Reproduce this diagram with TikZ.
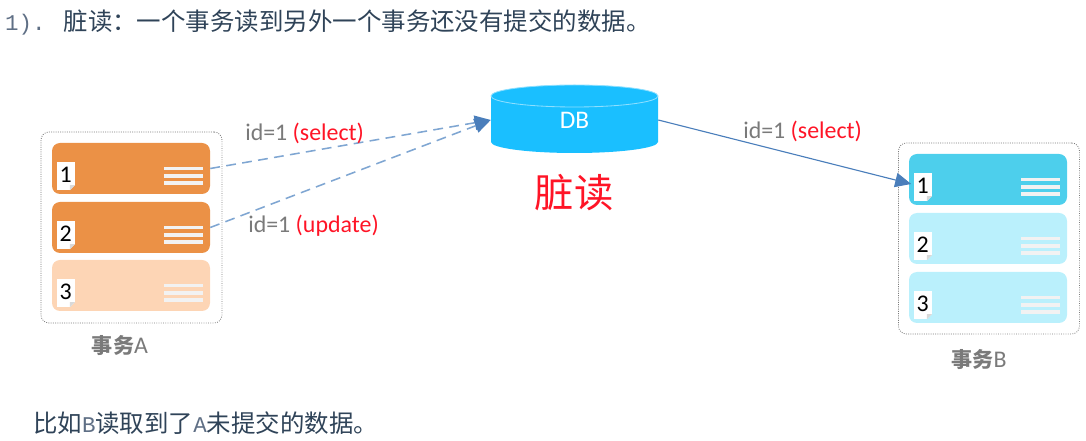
\documentclass[tikz,border=0pt]{standalone}
\usepackage{fontspec}
\setmainfont{Carlito}
\newfontfamily\cjk{Noto Sans CJK SC}
\newfontfamily\mono{Liberation Mono}
\usetikzlibrary{arrows.meta,calc}
\definecolor{orad}{HTML}{EB9146}
\definecolor{oral}{HTML}{FDD5B5}
\definecolor{cyad}{HTML}{4DCFEC}
\definecolor{cyal}{HTML}{BAF0FC}
\definecolor{dbblau}{HTML}{1ABFFF}
\definecolor{pfeil}{HTML}{4A7EBB}
\definecolor{hpfeil}{HTML}{7FA6D2}
\definecolor{grau}{HTML}{7A7A7A}
\definecolor{rot}{HTML}{FF1426}
\definecolor{tinte}{HTML}{2F4358}
\definecolor{monot}{HTML}{5F6F85}
\tikzset{
  kasten/.style={draw=grau,densely dotted,line width=0.6pt,rounded corners=0.2cm,minimum width=4.525cm,minimum height=4.775cm,inner sep=0pt},
  zeile/.style={rounded corners=0.2cm,minimum width=3.95cm,minimum height=1.275cm,inner sep=0pt},
  blatt/.style={fill=white,minimum width=0.45cm,minimum height=0.7cm,inner sep=0pt,font=\fontsize{17}{17}\selectfont},
  strich/.style={draw=white!95!black,line width=2.6pt},
  pfl/.style={-{Triangle[length=4mm,width=3.6mm]},pfeil,line width=0.8pt},
  hpfl/.style={-{Triangle[length=4mm,width=3.6mm,color=pfeil]},hpfeil,dash pattern=on 7pt off 4.5pt,line width=1.1pt},
  lbl/.style={anchor=west,inner sep=0pt,grau,font=\fontsize{17}{17}\selectfont},
  zeil/.style={anchor=west,inner sep=0pt,tinte,font=\fontsize{17.4}{20}\selectfont},
  tname/.style={inner sep=0pt,grau,font=\fontsize{15}{16}\selectfont},
}
\newcommand{\mz}[1]{{\mono\color{monot}\fontsize{16}{16}\selectfont #1}}
% name, x, y, colour, number
\newcommand{\reihe}[5]{
  \node[zeile,fill=#4] (#1) at (#2,#3) {};
  \node[blatt] (#1n) at ($(#1.west)+(0.35,-0.19)$) {\raisebox{0.5mm}{#5}};
  \fill[#4] (#1n.south east) ++(-0.13,0) -- ++(0.13,0) -- ++(0,0.13) -- cycle;
  \fill[black!15] (#1n.south east) ++(-0.13,0) -- ++(0.13,0.13) -- ++(-0.13,0) -- cycle;
  \draw[strich] ($(#1.east)+(-1.15,0)$) -- ($(#1.east)+(-0.17,0)$);
  \draw[strich] ($(#1.east)+(-1.15,-0.19)$) -- ($(#1.east)+(-0.17,-0.19)$);
  \draw[strich] ($(#1.east)+(-1.15,-0.37)$) -- ($(#1.east)+(-0.17,-0.37)$);
}
\begin{document}
\begin{tikzpicture}
  \useasboundingbox (0,0) rectangle (27.15,11.025);
  \node[zeil] (titel) at (0.12,10.47) {\mz{1).}\hspace{0.45cm}{\cjk 脏读：一个事务读到另外一个事务还没有提交的数据。}};
  \node[zeil] (fuss) at (0.82,0.45) {\cjk 比如\mz{B}读取到了\mz{A}未提交的数据。};
  % transaction A
  \node[kasten] (ka) at (3.2875,5.3375) {};
  \reihe{a1}{3.275}{6.8125}{orad}{1}
  \reihe{a2}{3.275}{5.3375}{orad}{2}
  \reihe{a3}{3.275}{3.8875}{oral}{3}
  \node[tname] (na) at (3,2.375) {{\cjk\bfseries 事务}{\fontsize{17}{17}\selectfont A}};
  % transaction B
  \node[kasten] (kb) at (24.725,5.0625) {};
  \reihe{b1}{24.7}{6.5375}{cyad}{1}
  \reihe{b2}{24.7}{5.0625}{cyal}{2}
  \reihe{b3}{24.7}{3.5875}{cyal}{3}
  \node[tname] (nb) at (24.475,2.025) {{\cjk\bfseries 事务}{\fontsize{17}{17}\selectfont B}};
  % database
  \fill[dbblau] (12.275,8.625) -- (12.275,7.475) arc[start angle=180,end angle=360,x radius=2.0875,y radius=0.275] -- (16.45,8.625) -- cycle;
  \draw[dbblau!50!white,fill=dbblau,line width=0.6pt] (14.3625,8.625) ellipse[x radius=2.0875,y radius=0.275];
  \node[white,inner sep=0pt,minimum width=4.175cm,minimum height=1.15cm,font=\fontsize{18}{18}\selectfont] (db) at (14.3625,8.025) {\raisebox{-1.5mm}{DB}};
  \node[rot,inner sep=0pt,font=\fontsize{28}{30}\selectfont] (dirty) at (14.35,6.2) {\cjk 脏读};
  % connectors
  \coordinate (bein) at (22.78,6.425);
  \draw[hpfl] (a1.east) -- (db.west);
  \draw[hpfl] (a2.east) -- (db.west);
  \draw[pfl] (db.east) -- (bein);
  \node[lbl] (l1) at (6.125,7.68) {id=1 \textcolor{rot}{(select)}};
  \node[lbl] (l2) at (6.2,5.38) {id=1 \textcolor{rot}{(update)}};
  \node[lbl] (l3) at (18.575,7.75) {id=1 \textcolor{rot}{(select)}};
\end{tikzpicture}
\end{document}
